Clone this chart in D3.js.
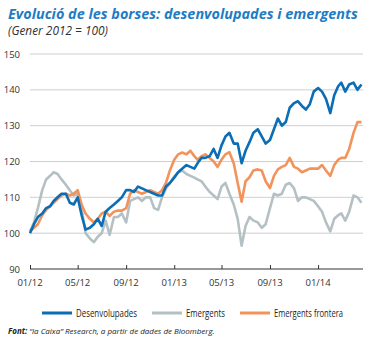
<!DOCTYPE html>
<html><head><meta charset="utf-8">
<script src="https://cdn.jsdelivr.net/npm/d3@7"></script>
<style>
body{margin:0;background:#fff;}
svg{display:block;}
</style></head>
<body>
<svg id="c" width="380" height="338"></svg>
<script>
// Data: 3 readings per month (days 1, 11, 21), Jan 2012 – Apr 2014
const dates = [];
for (let m = 0; m < 28; m++) {
  for (const d of [1, 11, 21]) dates.push(new Date(2012, m, d));
}
const desenvolupades = [
  100,102.5,104.5, 105.5,107,107.5, 109,110,111, 111,108.5,108,
  110,105,101, 101.5,102.5,104, 102,106,107, 108,109,110,
  112,112,111.5, 113,112.5,112, 111.5,111,110.5, 110.5,113,114,
  115.5,117,118, 119,118.5,118, 119.5,121,121, 121.5,123.5,121,
  124.5,127,128, 125,125,119.5, 123,125.4,128, 129,127,125,
  126,129,132, 130,131,135, 136.3,136.8,135.5, 134.5,136,139.5,
  140.5,139.5,137.5, 133.5,138.5,141, 142,139.5,141.5, 142,140,141.5
];
const emergents = [
  100.5,103,107, 112,115,116, 117,116.5,115, 113.5,112,110.5,
  111,107,100, 98.5,97.5,99, 100,103.5,99.5, 104.5,104.5,105.5,
  103,109,109.5, 110,109,110, 110,107,106.5, 110,112.5,114,
  115.8,117,117.5, 116.5,116,115.5, 115,114.5,113, 111.5,110.5,109.5,
  113,114,111, 108,104,96.5, 102,104.5,103.5, 103,101.5,102.5,
  107,111,110.5, 111,113.5,114, 112.5,109,110, 110,109.5,109,
  107.5,106,103, 100.5,104,105, 105.5,103.5,106, 110.5,110,108.5
];
const frontera = [
  100.5,101.5,102.5, 105,106.5,107.5, 108.5,109.5,110.5, 111,110.5,111,
  112,108,105.5, 104,103,104, 105.5,106,104.8, 106,106.3,106.3,
  107,111,112, 111.5,111,111.5, 112,111.5,111, 112,114,117.5,
  120.5,122,122.5, 122,123,121.5, 120.5,121.5,122, 121,120,118.5,
  120.5,122,122.6, 119.5,114,108.8, 114.5,115.6,117.5, 117.8,117.5,114.5,
  112.6,116,117.8, 118.5,119,121, 118.5,118,117, 117.5,118,118,
  118,119,117.5, 116,119,120.5, 121,121,123.5, 128,131,131
];
const seriesNames = ["Desenvolupades", "Emergents", "Emergents frontera"];
const seriesColors = ["#0a6db5", "#b4c0c3", "#f3935c"];
const yTicks = [90, 100, 110, 120, 130, 140, 150];
const xTickDates = [new Date(2012,0,1), new Date(2012,4,1), new Date(2012,8,1), new Date(2013,0,1), new Date(2013,4,1), new Date(2013,8,1), new Date(2014,0,1)];
const xTickLabels = ["01/12","05/12","09/12","01/13","05/13","09/13","01/14"];

const svg = d3.select("#c");
const pLeft = 30, pRight = 363, pTop = 54, pBottom = 269;
const x = d3.scaleTime().domain([new Date(2012,0,1), new Date(2014,3,25)]).range([pLeft, pRight]);
const y = d3.scaleLinear().domain([90, 150]).range([pBottom, pTop]);

// fit text to a width by adjusting font size (no glyph stretching)
function fitWidth(sel, w, baseSize) {
  const n = sel.node();
  const len = n.getComputedTextLength();
  if (len > 0) sel.attr("font-size", baseSize * w / len);
}

// Title
const title = svg.append("text").attr("x", 8).attr("y", 19)
  .attr("font-family", "'Liberation Sans Narrow','Open Sans',sans-serif")
  .attr("font-weight", "bold").attr("font-style", "italic").attr("font-size", 16)
  .attr("fill", "#1f7cc4")
  .text("Evolució de les borses: desenvolupades i emergents");
fitWidth(title, 350, 16);
const sub = svg.append("text").attr("x", 8).attr("y", 35)
  .attr("font-family", "'Open Sans',sans-serif").attr("font-style", "italic")
  .attr("font-size", 10).attr("fill", "#333")
  .text("(Gener 2012 = 100)");
fitWidth(sub, 100, 10);

// gridlines
const g = svg.append("g");
g.selectAll("line.grid").data(yTicks.filter(t => t > 90)).join("line")
  .attr("x1", pLeft).attr("x2", pRight)
  .attr("y1", d => y(d)).attr("y2", d => y(d))
  .attr("stroke", "#cfcfcf").attr("stroke-width", 1);

// y labels
g.selectAll("text.yl").data(yTicks).join("text")
  .attr("x", 20).attr("y", d => y(d) + 3.5).attr("text-anchor", "end")
  .attr("font-family", "'Open Sans',sans-serif").attr("font-size", 9.5).attr("fill", "#333")
  .text(d => d);

// x axis
const xAxis = d3.axisTop(x).tickValues(xTickDates).tickSize(4).tickFormat("");
const ax = svg.append("g").attr("transform", `translate(0,${pBottom})`).call(xAxis);
ax.select(".domain").attr("stroke", "#333").attr("d", `M${pLeft},0H${pRight}`);
ax.selectAll(".tick line").attr("stroke", "#333");
svg.selectAll("text.xl").data(xTickDates).join("text")
  .attr("x", d => x(d)).attr("y", pBottom + 17).attr("text-anchor", "middle")
  .attr("font-family", "'Open Sans',sans-serif").attr("font-size", 9.5).attr("fill", "#333")
  .text((d, i) => xTickLabels[i]);

// lines (draw gray, orange, blue order)
const all = [desenvolupades, emergents, frontera];
const line = d3.line().x((d, i) => x(dates[i])).y(d => y(d)).curve(d3.curveLinear);
[1, 2, 0].forEach(k => {
  svg.append("path").datum(all[k]).attr("d", line)
    .attr("fill", "none").attr("stroke", seriesColors[k]).attr("stroke-width", 2.6)
    .attr("stroke-linejoin", "round");
});

// legend
const legX = [42, 152, 240];
const legW = [61, 39, 69];
seriesNames.forEach((n, i) => {
  svg.append("line").attr("x1", legX[i]).attr("x2", legX[i] + 30)
    .attr("y1", 313).attr("y2", 313).attr("stroke", seriesColors[i]).attr("stroke-width", 3);
  svg.append("text").attr("x", legX[i] + 34).attr("y", 316.5)
    .attr("font-family", "'Liberation Sans Narrow','Open Sans',sans-serif").attr("font-size", 10).attr("fill", "#222")
    .attr("textLength", legW[i]).attr("lengthAdjust", "spacingAndGlyphs")
    .text(n);
});

// source
const src = svg.append("text").attr("x", 8).attr("y", 334)
  .attr("font-family", "'Liberation Sans Narrow','Open Sans',sans-serif").attr("font-style", "italic")
  .attr("font-size", 9).attr("fill", "#222");
src.append("tspan").attr("font-weight", "bold").text("Font:");
src.append("tspan").text(" “la Caixa” Research, a partir de dades de Bloomberg.");
fitWidth(src, 207, 9);
</script>
</body></html>
